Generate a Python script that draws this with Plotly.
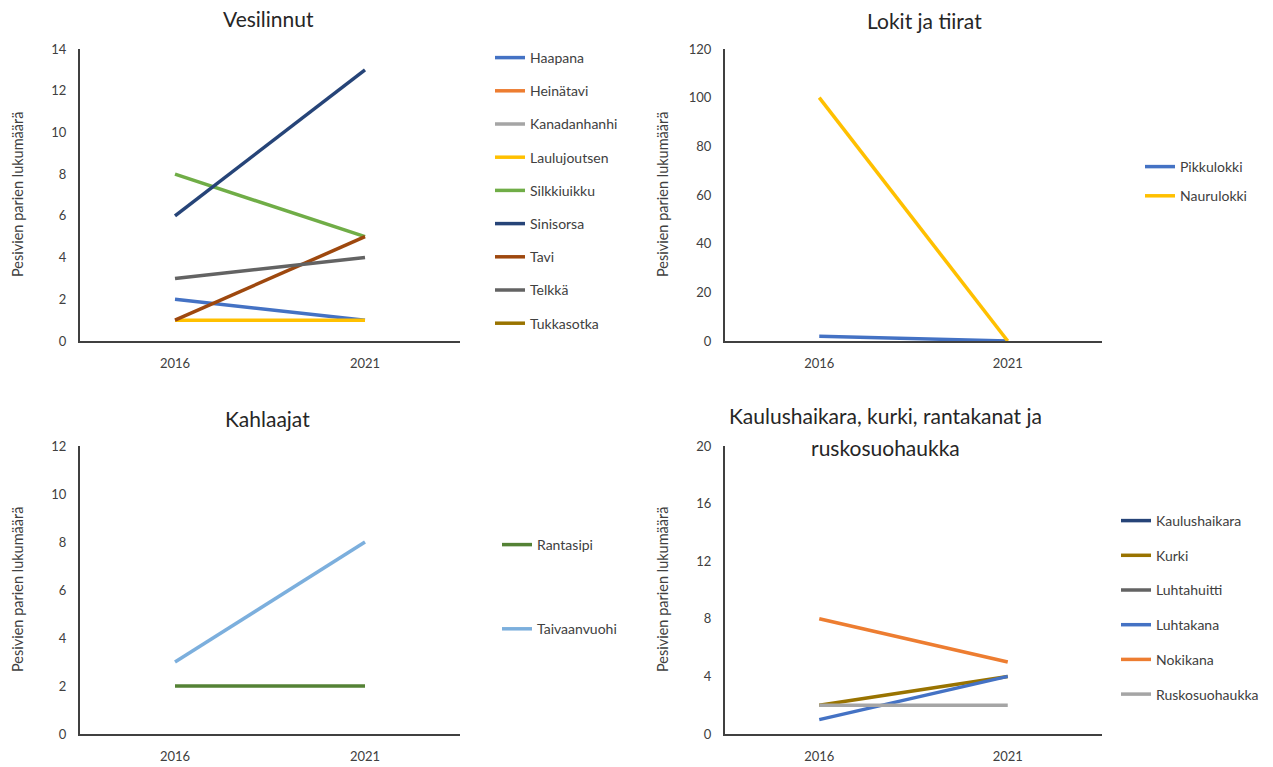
import plotly.graph_objects as go

years = ["2016", "2021"]

vesi_species = ["Haapana", "Heinätavi", "Kanadanhanhi", "Laulujoutsen", "Silkkiuikku",
                "Sinisorsa", "Tavi", "Telkkä", "Tukkasotka"]
vesi_2016 = [2, None, None, 1, 8, 6, 1, 3, None]
vesi_2021 = [1, None, None, 1, 5, 13, 5, 4, None]
vesi_colors = ["#4472C4", "#ED7D31", "#A5A5A5", "#FFC000", "#70AD47",
               "#264478", "#9E480E", "#636363", "#997300"]

lokit_species = ["Pikkulokki", "Naurulokki"]
lokit_2016 = [2, 100]
lokit_2021 = [0, 0]
lokit_colors = ["#4472C4", "#FFC000"]

kahl_species = ["Rantasipi", "Taivaanvuohi"]
kahl_2016 = [2, 3]
kahl_2021 = [2, 8]
kahl_colors = ["#548235", "#7CAFDD"]

muut_species = ["Kaulushaikara", "Kurki", "Luhtahuitti", "Luhtakana", "Nokikana", "Ruskosuohaukka"]
muut_2016 = [None, 2, None, 1, 8, 2]
muut_2021 = [None, 4, None, 4, 5, 2]
muut_colors = ["#264478", "#997300", "#636363", "#4472C4", "#ED7D31", "#A5A5A5"]

# panel titles (each line separately)
title_lines = [["Vesilinnut"], ["Lokit ja tiirat"], ["Kahlaajat"],
               ["Kaulushaikara, kurki, rantakanat ja", "ruskosuohaukka"]]
y_title = "Pesivien parien lukumäärä"
y_ranges = [(0, 14, 2), (0, 120, 20), (0, 12, 2), (0, 20, 4)]

W, H = 1273, 767
FONT = "Lato"

# panel pixel boxes: (x0, x1, ytop, ybottom)
boxes = [(80, 460, 49, 341), (725, 1102, 49, 341), (80, 460, 446, 734), (725, 1102, 446, 734)]

fig = go.Figure()

panels = [
    (vesi_species, vesi_2016, vesi_2021, vesi_colors),
    (lokit_species, lokit_2016, lokit_2021, lokit_colors),
    (kahl_species, kahl_2016, kahl_2021, kahl_colors),
    (muut_species, muut_2016, muut_2021, muut_colors),
]

for i, (names, a, b, cols) in enumerate(panels):
    suffix = "" if i == 0 else str(i + 1)
    for n, v1, v2, c in zip(names, a, b, cols):
        fig.add_trace(go.Scatter(
            x=years, y=[v1, v2], name=n, mode="lines",
            line=dict(color=c, width=3.5),
            xaxis="x" + suffix, yaxis="y" + suffix,
            legend="legend" + suffix, legendgroup=f"p{i}_{n}",
            showlegend=True,
        ))

layout = dict(
    width=W, height=H,
    margin=dict(l=0, r=0, t=0, b=0, autoexpand=False),
    paper_bgcolor="white", plot_bgcolor="white",
    font=dict(family=FONT, color="#404040"),
    annotations=[],
)

for i, (x0, x1, yt, yb) in enumerate(boxes):
    suffix = "" if i == 0 else str(i + 1)
    lo, hi, dt = y_ranges[i]
    layout["xaxis" + suffix] = dict(
        domain=[x0 / W, x1 / W], anchor="y" + suffix, type="category",
        range=[-0.5, 1.5], showgrid=False, zeroline=False, automargin=False,
        showline=True, linecolor="#404040", linewidth=2,
        ticks="", ticklabelstandoff=9,
        tickfont=dict(size=13, color="#404040", family=FONT),
        fixedrange=True,
    )
    layout["yaxis" + suffix] = dict(
        domain=[1 - yb / H, 1 - yt / H], anchor="x" + suffix,
        range=[lo, hi], dtick=dt, tick0=0, showgrid=False, zeroline=False,
        automargin=False,
        showline=True, linecolor="#404040", linewidth=2,
        ticks="", ticklabelstandoff=9,
        tickfont=dict(size=13, color="#404040", family=FONT),
    )
    # y-axis title
    layout["annotations"].append(dict(
        text=y_title, textangle=-90, xref="paper", yref="paper",
        x=(x0 - 63) / W, y=1 - ((yt + yb) / 2) / H, showarrow=False,
        font=dict(size=14.5, color="#404040", family=FONT),
        xanchor="center", yanchor="middle",
    ))

# panel titles: centre x px, first line centre y px, line spacing 32 px
title_pos = [(268, 18), (924, 21), (267, 418), (885, 415)]
for lines, (tx, ty) in zip(title_lines, title_pos):
    for k, line in enumerate(lines):
        layout["annotations"].append(dict(
            text=line, xref="paper", yref="paper", x=tx / W, y=1 - (ty + 32 * k) / H,
            showarrow=False, xanchor="center", yanchor="middle",
            font=dict(size=21, color="#262626", family=FONT),
        ))

# legends: (x px, first item centre y px, gap)
legend_specs = [(490, 54, 12), (1140, 163, 8), (497, 541, 63), (1116, 517, 13.5)]
for i, (lx, ly, gap) in enumerate(legend_specs):
    key = "legend" if i == 0 else f"legend{i + 1}"
    layout[key] = dict(
        x=lx / W, y=1 - (ly - 12) / H, xanchor="left", yanchor="top",
        bgcolor="rgba(0,0,0,0)", tracegroupgap=gap,
        font=dict(size=14, color="#404040", family=FONT),
        itemwidth=30,
    )

fig.update_layout(**layout)
fig.write_html("out.html")
